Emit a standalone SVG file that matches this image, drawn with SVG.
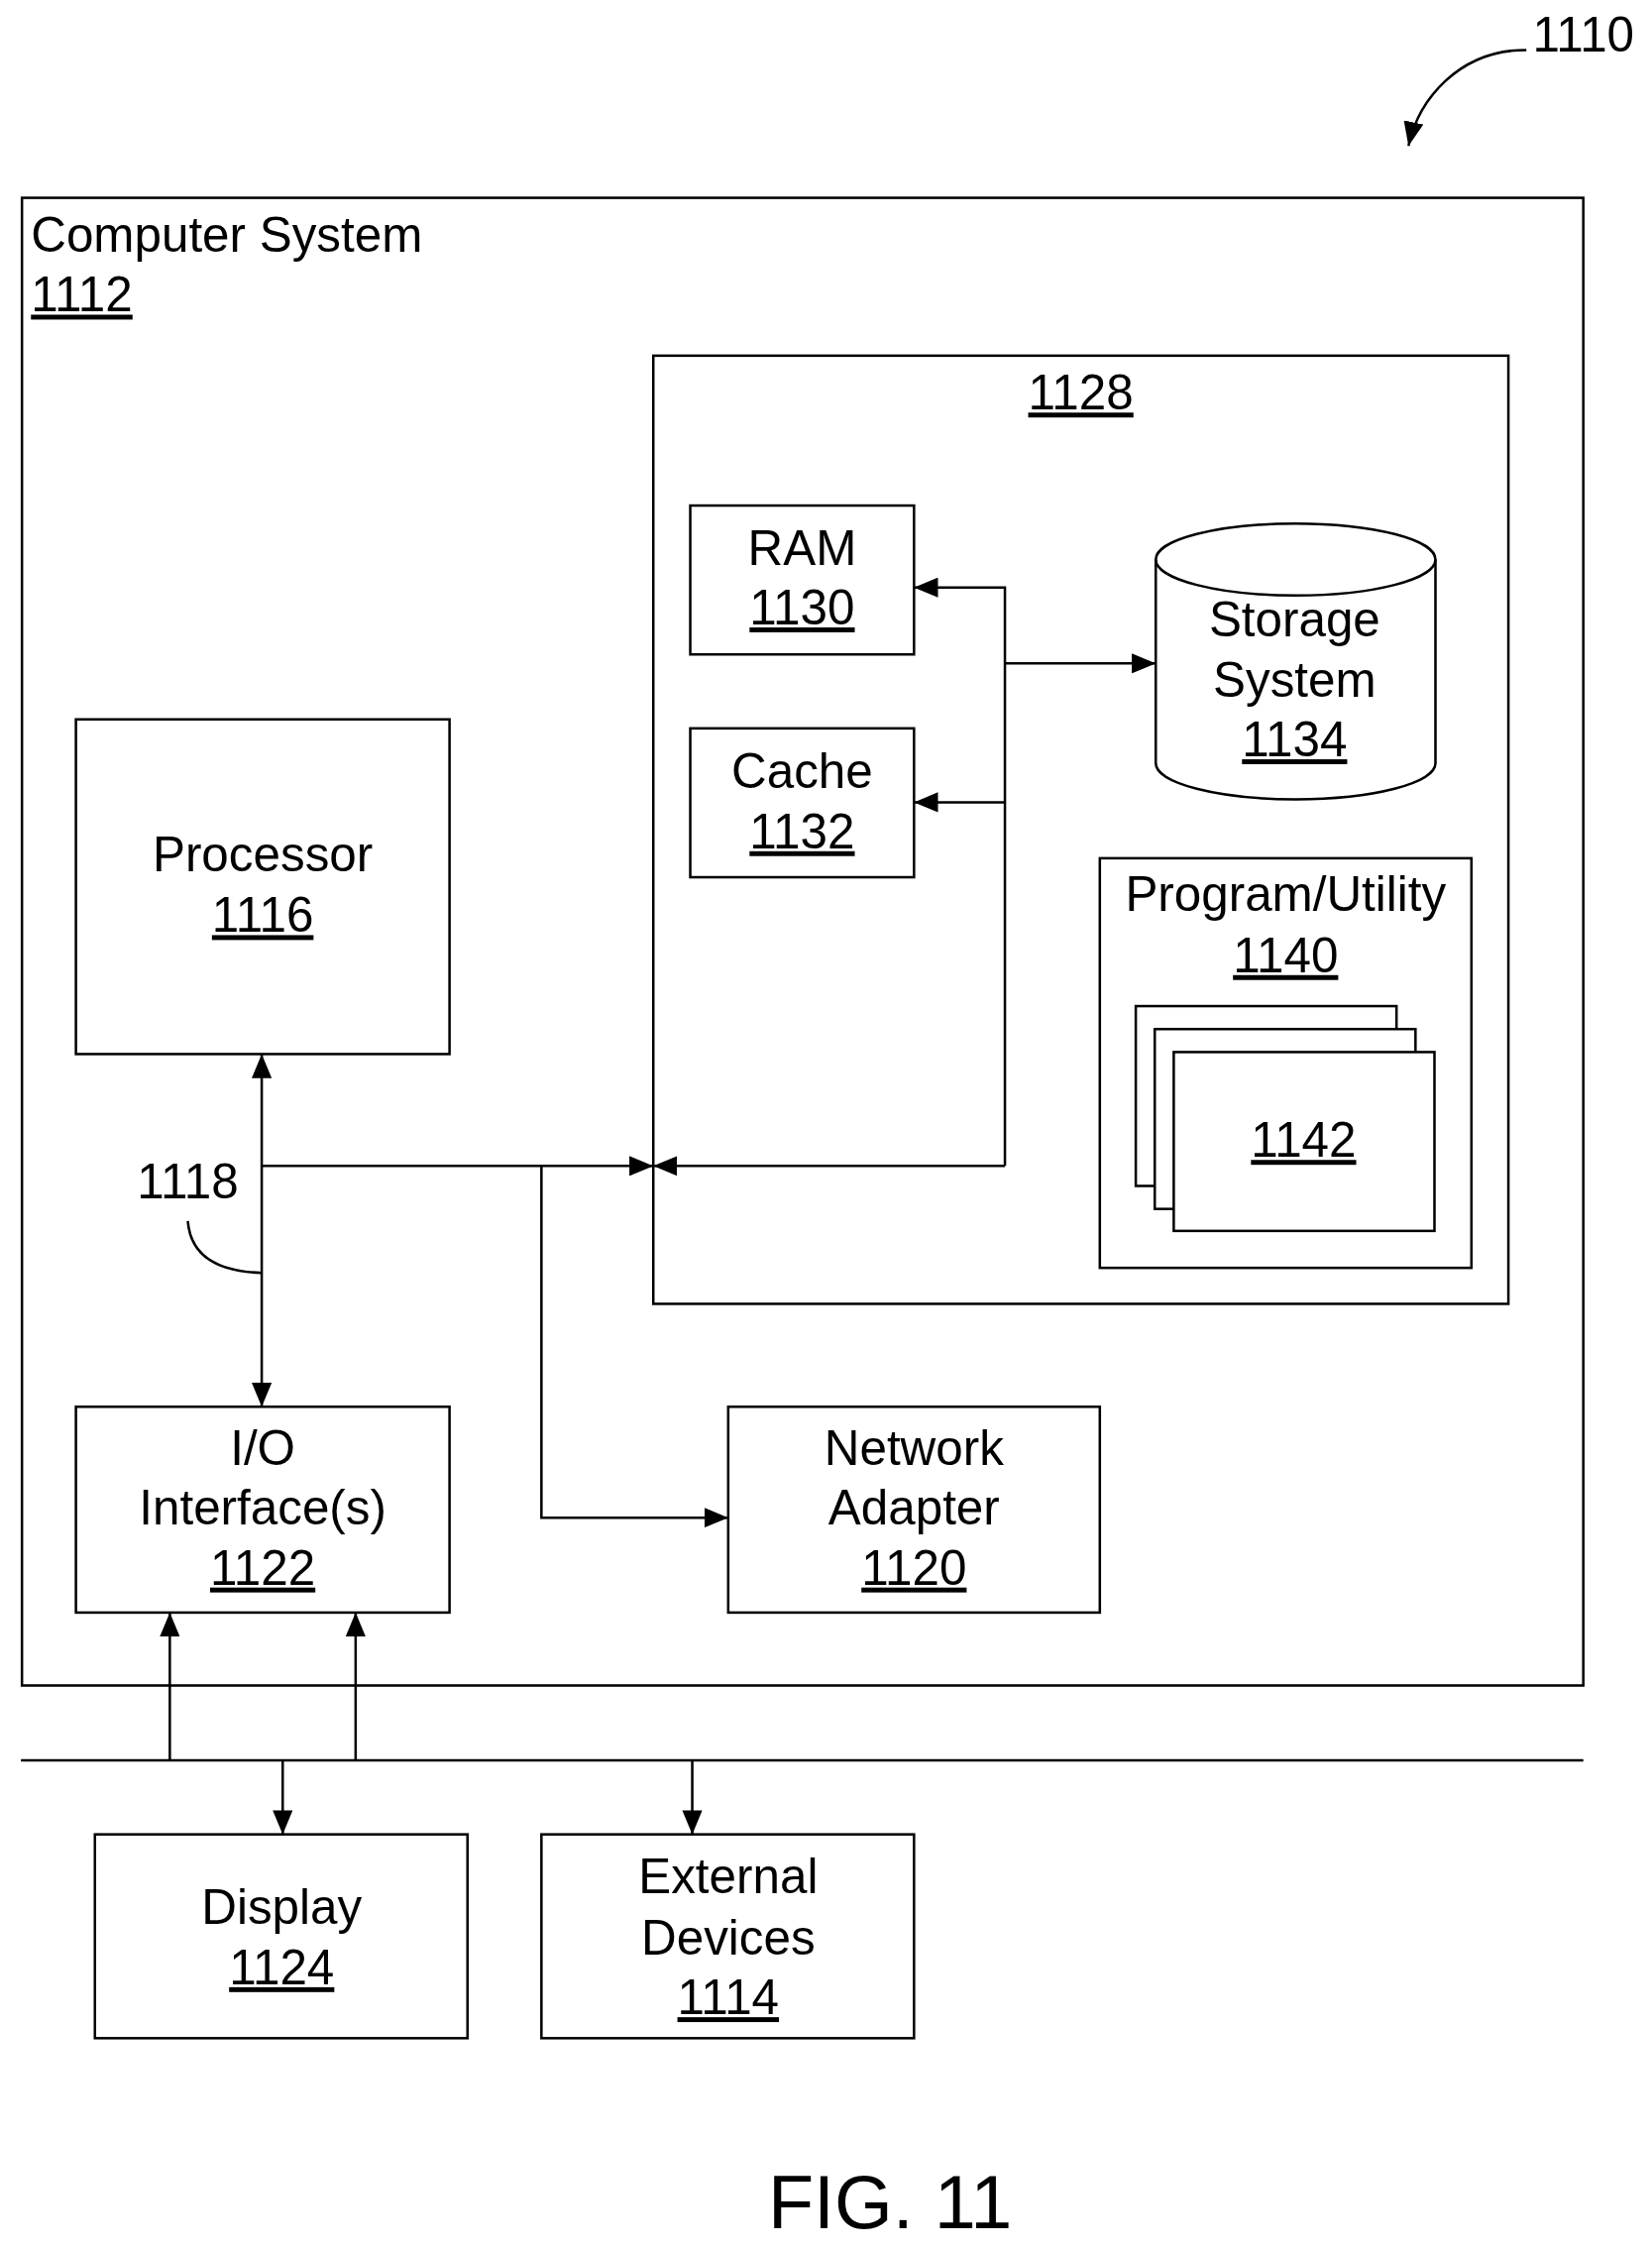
<svg xmlns="http://www.w3.org/2000/svg" width="1667" height="2269" viewBox="0 0 1667 2269">
<style>
.b{fill:#fff;stroke:#000;stroke-width:2.5}
.l{fill:none;stroke:#000;stroke-width:2.5}
text{font-family:"Liberation Sans",Arial,sans-serif;font-size:49px;fill:#000}
.c{text-anchor:middle}
.u{text-decoration:underline}
</style>
<defs>
<marker id="A" viewBox="0 0 24 20" refX="24" refY="10" markerWidth="24" markerHeight="20" markerUnits="userSpaceOnUse" orient="auto-start-reverse"><path d="M0 0L24 10L0 20z"/></marker>
</defs>
<g transform="scale(1.008)">
<text x="1636" y="52" text-anchor="end">1110</text>
<g id="outer"><rect class="b" x="22" y="198" width="1563" height="1489"/>
<text x="31" y="252">Computer System</text><text x="31" y="312" class="u">1112</text></g>
<g id="n1128"><rect class="b" x="654" y="356" width="856" height="949"/><text x="1082" y="410" class="c u">1128</text></g>
<g id="n1130"><rect class="b" x="691" y="506" width="224" height="149"/><text x="803" y="565" class="c">RAM</text><text x="803" y="625" class="c u">1130</text></g>
<g id="n1132"><rect class="b" x="691" y="729" width="224" height="149"/><text x="803" y="789" class="c">Cache</text><text x="803" y="849" class="c u">1132</text></g>
<g id="n1134"><path class="b" d="M1157 560A140 36 0 0 1 1437 560V764A140 36 0 0 1 1157 764Z"/><path class="l" d="M1157 560A140 36 0 0 0 1437 560"/>
<text x="1296" y="637" class="c">Storage</text><text x="1296" y="697" class="c">System</text><text x="1296" y="757" class="c u">1134</text></g>
<g id="n1140"><rect class="b" x="1101" y="859" width="372" height="410"/><text x="1287" y="912" class="c">Program/Utility</text><text x="1287" y="973" class="c u">1140</text></g>
<g id="n1142"><rect class="b" x="1137" y="1007" width="261" height="180"/><rect class="b" x="1156" y="1030" width="261" height="180"/><rect class="b" x="1175" y="1053" width="261" height="179"/><text x="1305" y="1158" class="c u">1142</text></g>
<g id="n1116"><rect class="b" x="76" y="720" width="374" height="335"/><text x="263" y="872" class="c">Processor</text><text x="263" y="933" class="c u">1116</text></g>
<g id="n1122"><rect class="b" x="76" y="1408" width="374" height="206"/><text x="263" y="1466" class="c">I/O</text><text x="263" y="1526" class="c">Interface(s)</text><text x="263" y="1586" class="c u">1122</text></g>
<g id="n1120"><rect class="b" x="729" y="1408" width="372" height="206"/><text x="915" y="1466" class="c">Network</text><text x="915" y="1526" class="c">Adapter</text><text x="915" y="1586" class="c u">1120</text></g>
<g id="n1124"><rect class="b" x="95" y="1836" width="373" height="204"/><text x="282" y="1926" class="c">Display</text><text x="282" y="1986" class="c u">1124</text></g>
<g id="n1114"><rect class="b" x="542" y="1836" width="373" height="204"/><text x="729" y="1895" class="c">External</text><text x="729" y="1956" class="c">Devices</text><text x="729" y="2016" class="c u">1114</text></g>
<g id="connectors">
<path class="l" d="M1528 50C1460 50 1420 100 1410 146" marker-end="url(#A)"/>
<path class="l" d="M262 1055V1408" marker-start="url(#A)" marker-end="url(#A)"/>
<path class="l" d="M262 1167H654" marker-end="url(#A)"/>
<path class="l" d="M1006 1167H654" marker-end="url(#A)"/>
<path class="l" d="M1006 1167V588H915" marker-end="url(#A)"/>
<path class="l" d="M1006 803H915" marker-end="url(#A)"/>
<path class="l" d="M1006 664H1157" marker-end="url(#A)"/>
<path class="l" d="M542 1167V1519H729" marker-end="url(#A)"/>
<path class="l" d="M21 1762H1585"/>
<path class="l" d="M170 1762V1614" marker-end="url(#A)"/>
<path class="l" d="M356 1762V1614" marker-end="url(#A)"/>
<path class="l" d="M283 1762V1836" marker-end="url(#A)"/>
<path class="l" d="M693 1762V1836" marker-end="url(#A)"/>
<path class="l" d="M188 1222Q192 1272 262 1274"/>
<text x="188" y="1199" class="c">1118</text>
</g>
<text x="891" y="2230" class="c" style="font-size:75px">FIG. 11</text>
</g>
</svg>
